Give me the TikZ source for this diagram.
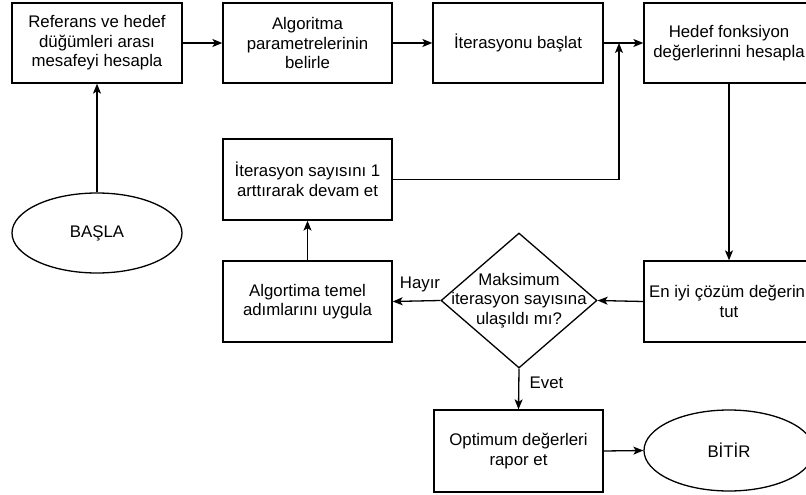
\documentclass[tikz,border=0pt]{standalone}
\usepackage{fontspec}
\setmainfont{Liberation Sans}
\usetikzlibrary{arrows.meta,shapes.geometric}
\begin{document}
\begin{tikzpicture}[x=1pt,y=-1pt,
  every node/.style={font=\fontsize{16.8}{19.5}\selectfont, text=black},
  box/.style={draw=black, line width=1.3pt, rectangle, inner sep=0pt, align=center, minimum width=170pt, minimum height=80pt},
  oval/.style={draw=black, line width=1.3pt, ellipse, inner sep=0pt, minimum width=170pt, minimum height=80pt},
  dec/.style={draw=black, line width=1.3pt, diamond, inner sep=0pt, minimum width=156pt, minimum height=135pt},
  arr/.style={draw=black, line width=1.3pt, -{Stealth[length=10pt,width=8pt,inset=2.5pt]}},
  lbl/.style={inner sep=0pt}
]
\clip (0,0) rectangle (806,495);
\node[box] (b1) at (97,43) {Referans ve hedef\\düğümleri arası\\mesafeyi hesapla};
\node[box, minimum width=169pt] (b2) at (307.5,43) {Algoritma\\parametrelerinin\\belirle};
\node[box] (b3) at (518,43) {İterasyonu başlat};
\node[box] (b4) at (729,43) {Hedef fonksiyon\\değerlerinni hesapla};
\node[box, minimum width=169pt, minimum height=81pt] (it) at (307.5,179.5) {İterasyon sayısını 1\\arttırarak devam et};
\node[oval] (basla) at (97,233) {BAŞLA};
\node[box, minimum width=169pt, minimum height=81pt] (alg) at (307.5,301.5) {Algortima temel\\adımlarını uygula};
\node[dec] (dia) at (519,300.5) {};
\node[align=center, inner sep=0pt] (diat) at (dia.center) {Maksimum\\iterasyon sayısına\\ulaşıldı mı?};
\node[box, minimum height=81pt] (en) at (729,301.5) {En iyi çözüm değerini\\tut};
\node[box, minimum width=169pt, minimum height=82pt] (opt) at (518.5,451) {Optimum değerleri\\rapor et};
\node[oval, minimum height=81pt] (bitir) at (729,450.5) {BİTİR};
\coordinate (j) at (619,43);

\draw[arr] (basla.north) -- (b1.south);
\draw[arr] (b1.east) -- (b2.west);
\draw[arr] (b2.east) -- (b3.west);
\draw[arr] (b3.east) -- (b4.west);
\draw[arr] (it.east) -| (j);
\draw[arr] (b4.south) -- (en.north);
\draw[arr] (en.west) -- (dia.east);
\draw[arr] (dia.west) -- (alg.east);
\draw[arr] (alg.north) -- (it.south);
\draw[arr] (dia.south) -- (opt.north);
\draw[arr] (opt.east) -- (bitir.west);
\node[lbl] (hayir) at (420,284) {Hayır};
\node[lbl] (evet) at (546.5,383) {Evet};
\end{tikzpicture}
\end{document}
